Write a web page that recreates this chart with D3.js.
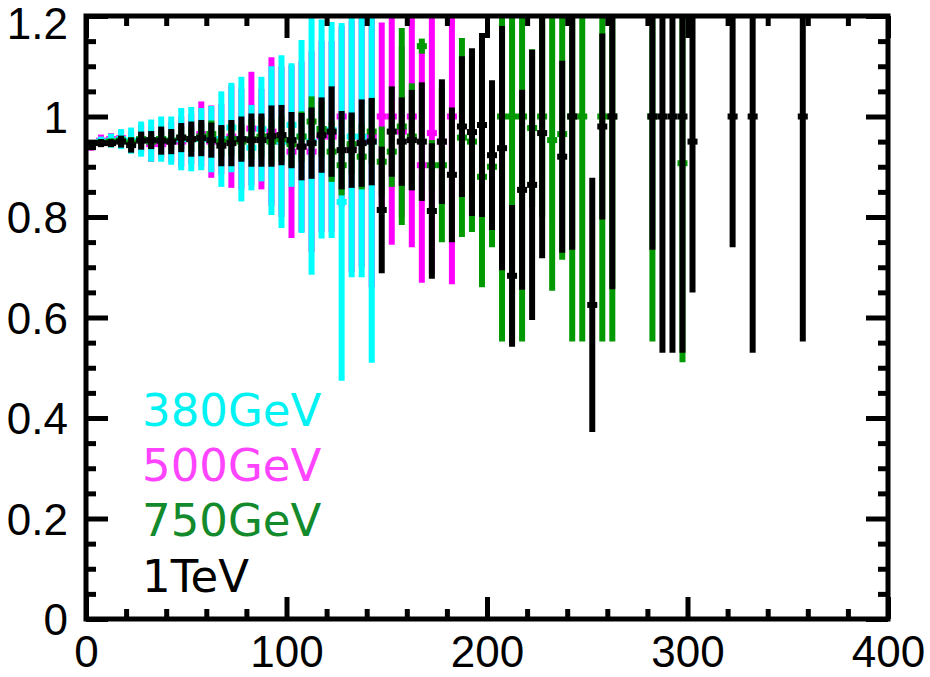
<!DOCTYPE html>
<html>
<head>
<meta charset="utf-8">
<script src="https://cdn.jsdelivr.net/npm/d3@7"></script>
<style>
  html, body { margin: 0; padding: 0; background: #fff; }
  svg { display: block; }
</style>
</head>
<body>
<svg id="chart" width="930" height="677"></svg>
<script>
// ---------------- data ----------------
const bins = [2.5,7.5,12.5,17.5,22.5,27.5,32.5,37.5,42.5,47.5,52.5,57.5,62.5,67.5,72.5,77.5,82.5,87.5,92.5,97.5,
  102.5,107.5,112.5,117.5,122.5,127.5,132.5,137.5,142.5,147.5,152.5,157.5,162.5,167.5,172.5,177.5,182.5,187.5,192.5,197.5,
  202.5,207.5,212.5,217.5,222.5,227.5,232.5,237.5,242.5,247.5,252.5,257.5,262.5,267.5,272.5,277.5,282.5,287.5,292.5,297.5,
  302.5,307.5,312.5,317.5,322.5,327.5,332.5,337.5,342.5,347.5,352.5,357.5];
const binHalfWidth = 2.5;

const seriesNames = ["380GeV", "500GeV", "750GeV", "1TeV"];

// 380 GeV (cyan)
const cyanVal = [0.945,0.950,0.952,0.955,0.952,0.955,0.952,0.955,0.952,0.955,0.955,0.955,0.955,0.955,0.978,0.955,0.938,0.975,0.952,0.950,
  0.983,0.960,0.950,0.975,0.973,0.830,0.960,0.960,0.950];
const cyanErr = [0.006,0.010,0.014,0.020,0.026,0.035,0.042,0.045,0.048,0.062,0.064,0.062,0.066,0.095,0.089,0.124,0.085,0.104,0.148,0.172,
  0.123,0.192,0.265,0.218,0.215,0.356,0.280,0.280,0.440];

// 500 GeV (magenta)
const magentaVal = [0.940,0.952,0.955,0.957,0.950,0.955,0.945,0.945,0.950,0.950,0.955,0.965,0.950,0.955,0.960,0.955,0.976,0.955,0.970,0.950,
  0.930,0.940,0.930,0.960,0.960,1.000,0.940,0.950,0.960,1.000,1.000,0.970,1.000,0.903,0.967,0.950,1.000];
const magentaErr = [0.008,0.012,0.012,0.016,0.020,0.028,0.035,0.028,0.040,0.050,0.050,0.065,0.072,0.070,0.102,0.100,0.113,0.100,0.148,0.150,
  0.172,0.170,0.200,0.190,0.190,0.180,0.250,0.250,0.300,0.187,0.255,0.170,0.260,0.234,0.280,0.120,0.334];

// 750 GeV (green)
const greenVal = [0.943,0.948,0.950,0.952,0.948,0.955,0.950,0.955,0.952,0.958,0.955,0.960,0.965,0.950,0.955,0.950,0.955,0.960,0.950,0.955,
  0.945,0.960,0.990,0.975,0.930,0.903,0.945,0.920,0.970,0.910,0.930,0.980,0.960,1.140,0.903,0.903,null,0.958,0.950,0.880,
  0.900,1.000,1.000,1.000,0.977,1.000,0.953,0.965,1.000,1.000,null,1.000,1.000,null,null,null,1.000,null,null,0.907];
const greenErr = [0.004,0.006,0.006,0.009,0.011,0.013,0.014,0.018,0.018,0.022,0.025,0.027,0.027,0.030,0.033,0.035,0.040,0.040,0.045,0.045,
  0.045,0.050,0.050,0.055,0.060,0.060,0.060,0.065,0.065,0.070,0.070,0.196,0.106,0.015,0.050,0.153,null,0.198,0.180,0.220,
  0.160,0.448,0.450,0.448,0.157,0.200,0.300,0.250,0.448,0.448,null,0.448,0.448,null,null,null,0.448,null,null,0.396];

// 1 TeV (black)
const blackVal = [0.939,0.947,0.947,0.950,0.943,0.952,0.953,0.952,0.950,0.958,0.955,0.957,0.953,0.942,0.947,0.955,0.953,0.953,0.961,0.963,
  0.953,0.940,0.947,0.963,0.970,0.933,0.933,0.947,0.950,0.814,0.970,0.950,0.953,0.950,0.812,0.950,0.884,0.980,0.969,0.983,
  0.923,0.937,0.683,0.854,0.864,0.967,null,0.920,1.000,null,0.625,0.980,1.000,null,null,null,1.000,1.000,1.000,1.000,
  0.950,null,null,null,1.000,null,1.000,null,null,null,null,1.000];
const blackErr = [0.005,0.008,0.008,0.012,0.015,0.018,0.018,0.028,0.025,0.029,0.035,0.036,0.035,0.041,0.046,0.045,0.053,0.053,0.061,0.060,
  0.056,0.067,0.071,0.075,0.090,0.078,0.075,0.087,0.087,0.126,0.090,0.088,0.100,0.118,0.135,0.124,0.134,0.140,0.167,0.183,
  0.149,0.243,0.141,0.199,0.269,0.249,null,0.191,0.265,null,0.253,0.185,0.344,null,null,null,0.265,0.470,0.470,0.470,
  0.300,null,null,null,0.260,null,0.470,null,null,null,null,0.448];

const xMajorTicks = [0, 100, 200, 300, 400];
const xMinorTicks = [20,40,60,80,120,140,160,180,220,240,260,280,320,340,360,380];
const yMajorTicks = [0, 0.2, 0.4, 0.6, 0.8, 1.0, 1.2];
const yMinorTicks = [0.05,0.1,0.15,0.25,0.3,0.35,0.45,0.5,0.55,0.65,0.7,0.75,0.85,0.9,0.95,1.05,1.1,1.15];

// ---------------- layout ----------------
const svg = d3.select("#chart");
const L = 86, R = 888, T = 16, B = 619;
const x = d3.scaleLinear().domain([0, 400]).range([L, R]);
const y = d3.scaleLinear().domain([0, 1.2]).range([B, T]);

const colors = { "380GeV": "#00ffff", "500GeV": "#ff00ff", "750GeV": "#009a00", "1TeV": "#000000" };
const textColors = { "380GeV": "#00f2f2", "500GeV": "#ff44ff", "750GeV": "#138a2c", "1TeV": "#000000" };

svg.append("defs").append("clipPath").attr("id", "plotclip")
  .append("rect").attr("x", L).attr("y", T).attr("width", R - L).attr("height", B - T);

const plot = svg.append("g").attr("clip-path", "url(#plotclip)");

function drawSeries(name, vals, errs) {
  const pts = bins.map((b, i) => ({ x: b, v: vals[i], e: errs[i] }))
    .filter(d => d.v !== null && d.v !== undefined);
  const g = plot.append("g").attr("class", "series-" + name);
  g.selectAll("line.bar").data(pts).join("line")
    .attr("class", "bar")
    .attr("x1", d => x(d.x)).attr("x2", d => x(d.x))
    .attr("y1", d => y(d.v - d.e)).attr("y2", d => y(d.v + d.e))
    .attr("stroke", colors[name]).attr("stroke-width", 6);
  g.selectAll("line.mark").data(pts).join("line")
    .attr("class", "mark")
    .attr("x1", d => x(d.x - binHalfWidth)).attr("x2", d => x(d.x + binHalfWidth))
    .attr("y1", d => y(d.v)).attr("y2", d => y(d.v))
    .attr("stroke", colors[name]).attr("stroke-width", 6);
}

drawSeries("500GeV", magentaVal, magentaErr);
drawSeries("380GeV", cyanVal, cyanErr);
drawSeries("750GeV", greenVal, greenErr);
drawSeries("1TeV", blackVal, blackErr);

// ---------------- axes ----------------
const fmt = d => String(+d.toFixed(1));
const fontFam = "'Liberation Sans', Arial, Helvetica, sans-serif";

function styleAxis(g) {
  g.select(".domain").remove();
  g.selectAll(".tick line").attr("stroke", "#000").attr("stroke-width", 5);
  g.selectAll(".tick text").attr("fill", "#000").attr("font-size", 44).attr("font-family", fontFam);
}

// bottom
svg.append("g").attr("transform", `translate(0,${B})`)
  .call(d3.axisBottom(x).tickValues(xMajorTicks).tickFormat(d3.format("d")).tickSizeInner(-22).tickSizeOuter(0).tickPadding(17))
  .call(styleAxis);
svg.append("g").attr("transform", `translate(0,${B})`)
  .call(d3.axisBottom(x).tickValues(xMinorTicks).tickFormat("").tickSizeInner(-10).tickSizeOuter(0))
  .call(styleAxis);
// top
svg.append("g").attr("transform", `translate(0,${T})`)
  .call(d3.axisTop(x).tickValues(xMajorTicks).tickFormat("").tickSizeInner(-22).tickSizeOuter(0))
  .call(styleAxis);
svg.append("g").attr("transform", `translate(0,${T})`)
  .call(d3.axisTop(x).tickValues(xMinorTicks).tickFormat("").tickSizeInner(-10).tickSizeOuter(0))
  .call(styleAxis);
// left
const leftAxis = svg.append("g").attr("transform", `translate(${L},0)`)
  .call(d3.axisLeft(y).tickValues(yMajorTicks).tickFormat(fmt).tickSizeInner(-22).tickSizeOuter(0).tickPadding(18))
  .call(styleAxis);
leftAxis.selectAll(".tick text").attr("dy", d => d >= 1.2 ? "0.5em" : "0.36em");
svg.append("g").attr("transform", `translate(${L},0)`)
  .call(d3.axisLeft(y).tickValues(yMinorTicks).tickFormat("").tickSizeInner(-10).tickSizeOuter(0))
  .call(styleAxis);
// right
svg.append("g").attr("transform", `translate(${R},0)`)
  .call(d3.axisRight(y).tickValues(yMajorTicks).tickFormat("").tickSizeInner(-22).tickSizeOuter(0))
  .call(styleAxis);
svg.append("g").attr("transform", `translate(${R},0)`)
  .call(d3.axisRight(y).tickValues(yMinorTicks).tickFormat("").tickSizeInner(-10).tickSizeOuter(0))
  .call(styleAxis);

// frame
svg.append("rect").attr("x", L).attr("y", T).attr("width", R - L).attr("height", B - T)
  .attr("fill", "none").attr("stroke", "#000").attr("stroke-width", 5);

// ---------------- legend ----------------
const legendBaselines = [426, 481, 536, 592];
svg.append("g").selectAll("text").data(seriesNames).join("text")
  .attr("x", 142)
  .attr("y", (d, i) => legendBaselines[i])
  .attr("fill", d => textColors[d])
  .attr("font-family", "'DejaVu Sans', Verdana, sans-serif")
  .attr("font-size", 45)
  .text(d => d);
</script>
</body>
</html>
